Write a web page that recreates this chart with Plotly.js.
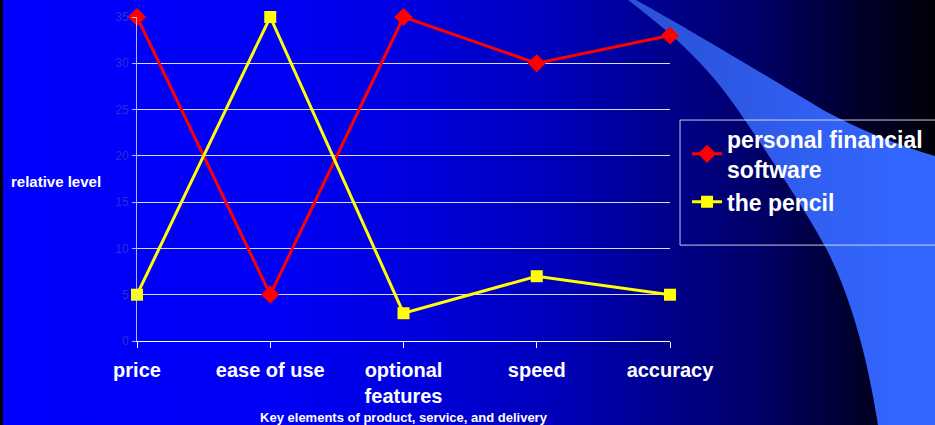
<!DOCTYPE html>
<html>
<head>
<meta charset="utf-8">
<script src="https://cdn.plot.ly/plotly-3.0.1.min.js"></script>
<style>
  html, body { margin: 0; padding: 0; background: #000; }
  #stage {
    position: relative; width: 935px; height: 425px; overflow: hidden;
    background: linear-gradient(to right, #000000 0px, #000000 3px, #0000ff 3px, #0000f6 30%, #0000dc 45%, #0000b8 60%, #000094 69%, #000068 81%, #00002a 92%, #000008 100%);
  }
  #deco { position: absolute; left: 0; top: 0; }
  #chart { position: absolute; left: 0; top: 0; width: 935px; height: 425px; }
</style>
</head>
<body>
<div id="stage">
  <svg id="deco" width="935" height="425" viewBox="0 0 935 425">
    <defs>
      <linearGradient id="swoosh" gradientUnits="userSpaceOnUse" x1="650" y1="0" x2="900" y2="0">
        <stop offset="0" stop-color="#2b52d8"/>
        <stop offset="1" stop-color="#3366ff"/>
      </linearGradient>
    </defs>
    <path fill="url(#swoosh)" d="M628,0 L636,0 C690,30 760,72 823,110 C860,130 900,146 935,156 L935,425 L878,425 C868,360 852,300 827,250 C805,210 780,172 738,110 C705,62 670,32 628,0 Z"/>
  </svg>
  <div id="chart"></div>
</div>
<script>
// Key elements compared on a 0-35 relative scale
const categories = ['price', 'ease of use', 'optional<br>features', 'speed', 'accuracy'];
const softwareValues = [35, 5, 35, 30, 33];
const pencilValues = [5, 35, 3, 7, 5];
const yTickValues = [0, 5, 10, 15, 20, 25, 30, 35];
const seriesNames = ['personal financial<br>software', 'the pencil'];

const traces = [
  {
    type: 'scatter', mode: 'lines+markers',
    x: categories, y: softwareValues, name: seriesNames[0],
    line: { color: '#ff0000', width: 3 },
    marker: { symbol: 'diamond', size: 14, color: '#ff0000' },
    cliponaxis: false
  },
  {
    type: 'scatter', mode: 'lines+markers',
    x: categories, y: pencilValues, name: seriesNames[1],
    line: { color: '#ffff00', width: 3 },
    marker: { symbol: 'square', size: 12, color: '#ffff00' },
    cliponaxis: false
  }
];

const layout = {
  width: 935, height: 425,
  margin: { l: 137, r: 265, t: 17, b: 84 },
  paper_bgcolor: 'rgba(0,0,0,0)',
  plot_bgcolor: 'rgba(0,0,0,0)',
  font: { family: 'Liberation Sans, Arial, sans-serif', color: '#ffffff' },
  showlegend: true,
  xaxis: {
    type: 'category', range: [0, 4],
    showgrid: false, zeroline: false,
    showline: true, linecolor: '#ffffff', linewidth: 1,
    ticks: 'outside', ticklen: 6, tickcolor: '#ffffff', tickwidth: 1,
    tickfont: { size: 20, color: '#ffffff', weight: 'bold' },
    ticklabelstandoff: 5,
    title: {
      text: 'Key elements of product, service, and delivery',
      font: { size: 13, color: '#ffffff', weight: 'bold' },
      standoff: 12
    }
  },
  yaxis: {
    range: [0, 35], tickvals: yTickValues,
    showgrid: true, gridcolor: 'rgba(255,255,255,0.85)', gridwidth: 1,
    zeroline: false,
    showline: true, linecolor: 'rgba(225,225,255,0.8)', linewidth: 1,
    ticks: 'outside', ticklen: 4, tickcolor: 'rgba(225,225,255,0.8)',
    tickfont: { size: 12, color: '#2e2ed8' },
    ticklabelstandoff: 1
  },
  legend: {
    xref: 'container', yref: 'container',
    x: 0.7348, xanchor: 'left', y: 0.7238, yanchor: 'top',
    bgcolor: 'rgba(0,0,0,0)', borderwidth: 0,
    font: { size: 23, color: '#ffffff', weight: 'bold' },
    tracegroupgap: 0
  },
  shapes: [
    {
      type: 'rect', xref: 'paper', yref: 'paper',
      x0: 1.0188, x1: 1.6, y0: 0.296, y1: 0.682,
      line: { color: 'rgba(235,235,255,0.85)', width: 1 },
      fillcolor: 'rgba(0,0,0,0)', layer: 'below'
    }
  ],
  annotations: [
    {
      text: 'relative level', xref: 'paper', yref: 'paper',
      x: -0.2402, xanchor: 'left', y: 0.492, yanchor: 'middle',
      showarrow: false,
      font: { size: 15, color: '#ffffff', weight: 'bold' }
    }
  ]
};

Plotly.newPlot('chart', traces, layout, { displayModeBar: false, staticPlot: true });
</script>
</body>
</html>
